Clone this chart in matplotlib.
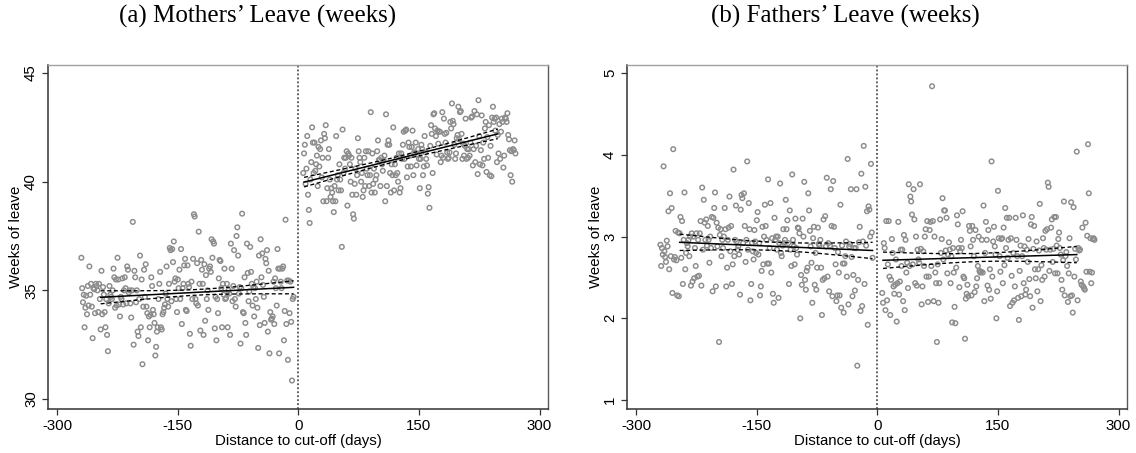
import numpy as np
import matplotlib.pyplot as plt

# ---- Data ----
# x = distance to the cut-off in days, y = average weeks of leave per day bin.
# Bins within 5 days of the cut-off are empty in the original.
DAYS_LEFT = np.arange(-270, -5)    # -270 .. -6
DAYS_RIGHT = np.arange(6, 271)     # 6 .. 270

MOTHERS_LEFT = [
    36.5, 35.1, 34.45, 34.8, 33.3, 34.2, 34.75, 33.9, 35.2, 34.3,
    36.1, 34.8, 35.3, 34.25, 32.8, 35.1, 35.05, 33.95, 35.3, 35.2,
    35.0, 34.0, 35.3, 34.6, 33.2, 35.9, 33.9, 35.15, 34.8, 34.0,
    33.3, 34.6, 32.95, 32.2, 34.4, 35.2, 34.8, 34.7, 34.6, 35.0,
    36.0, 35.6, 34.2, 35.5, 34.3, 36.5, 35.5, 34.35, 33.8, 34.7,
    34.6, 35.55, 34.35, 35.0, 35.6, 35.1, 34.4, 36.1, 35.95, 34.9,
    35.0, 34.4, 33.75, 35.0, 38.15, 32.5, 35.9, 35.6, 34.45, 35.0,
    33.1, 32.9, 34.6, 36.6, 33.3, 35.5, 31.6, 34.25, 35.95, 34.7,
    36.2, 34.25, 33.95, 32.7, 33.8, 33.3, 33.87, 35.6, 35.2, 34.1,
    33.9, 33.5, 32.0, 32.4, 33.1, 33.3, 34.6, 35.3, 35.85, 33.3,
    33.2, 33.9, 34.0, 34.2, 34.35, 34.85, 36.1, 34.6, 34.25, 35.3,
    36.95, 36.85, 34.5, 36.9, 36.3, 37.25, 35.4, 35.55, 34.6, 34.0,
    35.5, 35.1, 35.95, 34.6, 36.9, 33.45, 35.1, 35.3, 36.15, 36.45,
    34.1, 34.05, 36.15, 35.3, 35.15, 33.0, 32.45, 35.4, 34.6, 36.45,
    38.5, 38.4, 34.6, 34.4, 36.25, 34.3, 37.7, 35.3, 33.15, 36.4,
    35.95, 35.3, 32.95, 36.2, 33.6, 35.7, 34.6, 35.0, 34.1, 36.0,
    36.1, 35.85, 37.35, 36.5, 37.25, 37.15, 33.25, 34.7, 32.7, 34.6,
    33.95, 35.55, 36.4, 36.35, 35.1, 33.3, 35.3, 34.8, 36.0, 34.6,
    34.65, 35.3, 33.3, 35.0, 34.85, 32.95, 37.15, 36.0, 34.5, 35.2,
    36.85, 34.6, 34.25, 37.5, 37.9, 36.6, 34.85, 35.15, 32.55, 35.1,
    38.53, 34.0, 33.95, 35.6, 33.5, 32.95, 37.15, 35.8, 34.5, 34.95,
    37.0, 35.85, 35.3, 34.3, 35.15, 33.8, 35.1, 34.6, 35.4, 34.2,
    32.35, 36.6, 33.4, 37.35, 35.6, 36.7, 35.25, 34.7, 33.5, 36.45,
    36.25, 36.85, 33.1, 35.9, 32.1, 34.0, 33.65, 33.7, 33.8, 35.4,
    33.45, 35.55, 35.1, 34.3, 36.9, 36.0, 32.1, 36.0, 35.4, 35.1,
    36.0, 36.1, 32.7, 34.05, 38.25, 33.45, 35.45, 31.8, 35.45, 33.95,
    35.4, 33.55, 30.85, 34.6, 34.7,
]

MOTHERS_RIGHT = [
    40.4, 41.3, 41.7, 39.9, 40.6,
    42.1, 39.4, 38.7, 38.1, 40.1, 40.9, 42.5, 41.8, 40.4, 41.8,
    40.5, 40.8, 41.2, 39.8, 41.6, 40.7, 41.5, 41.9, 40.2, 41.1,
    39.1, 42.2, 42.0, 42.6, 39.1, 39.7, 41.1, 41.5, 40.1, 39.3,
    39.7, 39.5, 39.1, 38.6, 39.8, 39.1, 42.1, 40.1, 40.3, 39.6,
    40.8, 40.1, 39.6, 37.0, 42.4, 40.4, 41.1, 40.6, 41.1, 41.4,
    38.9, 41.3, 41.2, 40.8, 40.0, 41.1, 39.4, 38.5, 38.3, 39.9,
    40.6, 39.4, 40.3, 42.0, 41.4, 41.1, 40.9, 40.0, 40.4, 39.3,
    39.6, 41.1, 39.8, 41.4, 40.6, 40.3, 41.4, 39.8, 40.3, 43.2,
    39.5, 41.3, 39.9, 40.6, 39.5, 40.1, 40.3, 41.4, 41.9, 41.0,
    41.0, 39.8, 41.1, 40.8, 40.5, 41.0, 41.2, 39.1, 43.1, 39.8,
    41.7, 41.9, 41.7, 40.4, 39.5, 40.8, 40.3, 42.5, 39.6, 40.8,
    40.3, 41.1, 40.4, 40.0, 41.3, 39.5, 39.7, 41.3, 41.05, 41.7,
    42.3, 41.05, 42.35, 42.4, 40.2, 40.7, 41.8, 41.6, 41.2, 40.7,
    41.6, 42.35, 40.3, 41.35, 41.3, 41.8, 40.75, 41.25, 41.5, 41.05,
    39.7, 41.05, 41.7, 41.5, 40.3, 40.7, 42.1, 41.35, 41.05, 40.75,
    39.45, 39.75, 38.8, 41.65, 42.6, 42.2, 40.4, 43.1, 43.15, 42.45,
    42.1, 41.25, 42.35, 41.75, 42.3, 42.3, 40.9, 41.2, 43.2, 41.1,
    42.9, 42.2, 41.8, 42.25, 41.35, 41.05, 41.1, 41.35, 42.75, 42.45,
    43.6, 42.8, 42.65, 41.7, 41.05, 41.3, 42.0, 42.15, 43.45, 41.95,
    43.2, 43.25, 42.2, 41.05, 41.75, 41.2, 41.65, 42.9, 41.05, 41.5,
    41.1, 41.5, 41.2, 41.8, 42.95, 43.0, 40.75, 41.5, 43.25, 40.9,
    41.65, 43.1, 40.35, 43.75, 42.1, 40.8, 41.45, 43.05, 40.75, 41.8,
    41.05, 42.45, 42.75, 40.45, 42.05, 41.1, 42.6, 40.3, 41.65, 40.25,
    42.95, 43.45, 42.75, 42.9, 42.35, 42.95, 40.9, 42.15, 41.3, 42.65,
    41.05, 42.3, 42.9, 42.75, 40.65, 41.2, 42.95, 42.9, 42.75, 43.15,
    42.15, 41.95, 41.45, 40.3, 41.4, 40.0, 41.5, 41.45, 41.9, 41.3,
]

FATHERS_LEFT = [
    2.9, 2.64, 2.86, 2.78, 3.86, 2.82, 2.75, 2.69, 2.95, 2.88,
    3.31, 2.6, 3.53, 2.76, 3.35, 2.31, 4.07, 2.72, 2.75, 3.07,
    2.71, 2.28, 3.05, 2.27, 3.04, 3.24, 2.74, 3.19, 2.42, 2.96,
    3.54, 2.6, 2.8, 2.92, 2.88, 2.96, 2.76, 3.0, 2.4, 3.04,
    2.45, 3.0, 2.49, 2.86, 2.64, 3.04, 2.51, 2.96, 2.52, 3.04,
    3.19, 2.4, 3.6, 2.84, 3.45, 3.17, 2.96, 3.21, 2.89, 3.13,
    2.96, 2.68, 3.0, 2.86, 3.24, 2.33, 3.23, 3.35, 3.54, 2.39,
    3.17, 2.88, 3.11, 1.71, 3.02, 3.09, 2.76, 2.96, 2.86, 3.0,
    3.35, 3.09, 2.39, 2.62, 2.96, 3.11, 3.49, 2.82, 3.13, 2.42,
    2.66, 3.82, 2.76, 2.96, 3.38, 2.94, 2.84, 2.88, 2.78, 2.29,
    3.33, 3.51, 3.47, 2.92, 3.53, 3.13, 2.69, 2.96, 3.92, 2.84,
    3.41, 3.09, 2.22, 2.42, 2.92, 2.82, 2.72, 3.08, 2.94, 2.8,
    3.2, 3.3, 2.78, 2.92, 2.28, 2.39, 2.58, 3.12, 2.66, 3.0,
    3.39, 3.13, 2.96, 2.67, 3.7, 2.67, 2.86, 3.41, 2.56, 2.98,
    2.3, 2.19, 3.23, 2.96, 3.0, 2.84, 3.0, 2.25, 2.92, 3.65,
    2.8, 2.76, 2.89, 3.09, 2.92, 2.96, 3.45, 3.09, 3.2, 2.92,
    2.42, 3.32, 2.84, 2.64, 3.76, 2.96, 2.88, 2.66, 3.22, 2.86,
    2.78, 3.11, 3.1, 3.04, 2.0, 2.53, 2.41, 3.22, 3.0, 3.67,
    2.47, 2.35, 2.58, 2.62, 3.53, 3.32, 3.07, 2.88, 2.68, 2.19,
    2.98, 3.12, 2.41, 2.8, 2.35, 2.62, 3.11, 2.91, 2.89, 2.96,
    2.62, 2.04, 2.47, 3.21, 2.49, 3.25, 2.88, 3.72, 2.51, 2.92,
    2.33, 2.89, 3.58, 3.13, 2.27, 3.68, 3.12, 2.86, 2.66, 2.21,
    2.28, 2.81, 2.56, 2.28, 3.39, 2.13, 2.89, 2.67, 2.07, 2.67,
    2.76, 2.94, 2.51, 3.95, 2.17, 2.88, 2.91, 3.58, 2.75, 2.27,
    2.53, 2.86, 2.34, 2.86, 3.58, 1.42, 2.47, 2.93, 3.12, 2.09,
    3.77, 2.15, 2.94, 4.11, 2.42, 3.61, 2.89, 3.31, 1.92, 3.37,
    3.33, 3.0, 3.89, 3.05, 2.74,
]

FATHERS_RIGHT = [
    2.31, 2.19, 2.92, 2.86, 2.1,
    3.19, 2.22, 2.66, 3.19, 2.51, 2.04, 2.47, 2.97, 2.8, 2.39,
    2.3, 2.41, 2.72, 1.96, 2.43, 3.18, 2.29, 2.45, 2.84, 2.64,
    2.84, 2.21, 3.02, 2.1, 2.96, 2.56, 2.68, 2.37, 3.64, 2.64,
    3.49, 3.43, 3.27, 2.66, 3.58, 3.21, 2.43, 3.0, 2.4, 2.84,
    2.72, 2.68, 3.64, 2.85, 2.17, 2.39, 2.82, 2.64, 3.0, 3.09,
    2.51, 3.19, 2.2, 2.51, 3.08, 3.18, 2.64, 4.84, 3.19, 2.21,
    3.0, 2.56, 2.43, 1.71, 2.66, 2.19, 2.43, 3.21, 2.8, 2.97,
    3.47, 2.72, 3.32, 3.32, 2.83, 3.23, 2.55, 2.78, 2.93, 2.84,
    2.43, 2.76, 1.95, 2.86, 2.56, 2.14, 1.94, 2.62, 3.26, 3.15,
    2.86, 2.38, 2.82, 2.96, 2.86, 3.31, 2.51, 2.49, 1.75, 2.24,
    2.3, 2.41, 2.27, 3.13, 3.07, 2.88, 2.28, 3.13, 2.96, 2.76,
    2.32, 3.08, 2.39, 2.49, 2.64, 3.0, 2.58, 2.56, 2.57, 2.96,
    2.56, 3.38, 2.21, 2.8, 3.18, 2.96, 2.4, 3.08, 2.35, 2.6,
    2.24, 3.92, 2.51, 2.94, 3.12, 2.88, 2.78, 2.0, 2.33, 3.56,
    2.98, 2.76, 2.57, 2.97, 2.98, 2.43, 3.11, 2.65, 3.35, 2.86,
    3.23, 2.74, 2.96, 3.23, 2.15, 2.98, 2.52, 2.19, 2.8, 2.22,
    2.39, 3.23, 2.96, 2.76, 2.25, 1.98, 2.58, 2.89, 2.27, 2.76,
    3.26, 2.43, 2.88, 2.29, 2.35, 2.84, 2.69, 2.97, 2.48, 2.27,
    3.15, 3.24, 2.13, 2.85, 3.13, 2.6, 2.49, 2.94, 2.33, 2.6,
    2.83, 3.4, 2.21, 2.65, 2.47, 2.98, 2.86, 2.51, 3.07, 2.84,
    3.09, 3.66, 3.61, 2.58, 2.84, 3.11, 3.21, 2.69, 2.85, 3.24,
    2.55, 3.24, 2.89, 2.55, 2.97, 3.05, 2.86, 2.78, 2.47, 2.35,
    2.71, 3.43, 2.28, 2.76, 2.81, 2.64, 2.2, 2.55, 2.98, 2.27,
    3.42, 2.28, 2.07, 3.36, 2.51, 2.85, 2.72, 4.04, 2.22, 2.86,
    2.83, 2.84, 2.45, 2.41, 3.11, 2.39, 2.37, 2.35, 3.17, 2.57,
    3.01, 4.13, 3.53, 2.57, 2.98, 2.43, 2.56, 2.97, 2.98, 2.96,
]

# Linear fits (start/end values) and 95% CI half-widths (at the ends, at the middle)
FIT_DAYS_LEFT = [-246, -6]
FIT_DAYS_RIGHT = [7, 248]
MOTHERS_FIT_LEFT = [34.68, 35.14]
MOTHERS_FIT_RIGHT = [39.98, 42.20]
FATHERS_FIT_LEFT = [2.93, 2.83]
FATHERS_FIT_RIGHT = [2.71, 2.78]
MOTHERS_CI_LEFT = [0.30, 0.13]
MOTHERS_CI_RIGHT = [0.22, 0.10]
FATHERS_CI_LEFT = [0.10, 0.05]
FATHERS_CI_RIGHT = [0.10, 0.05]

TITLES = ["(a) Mothers\u2019 Leave (weeks)", "(b) Fathers\u2019 Leave (weeks)"]
X_TICKS = [-300, -150, 0, 150, 300]
MOTHERS_Y_TICKS = [30, 35, 40, 45]
FATHERS_Y_TICKS = [1, 2, 3, 4, 5]

assert len(MOTHERS_LEFT) == len(DAYS_LEFT) == len(FATHERS_LEFT)
assert len(MOTHERS_RIGHT) == len(DAYS_RIGHT) == len(FATHERS_RIGHT)

SANS = "Liberation Sans"
SERIF = "Liberation Serif"
DOT_COLOR = "#8c8c8c"


def draw_fit(ax, days, fit, ci):
    # straight fitted line, dashed confidence band around it
    d = np.linspace(days[0], days[1], 200)
    y = np.interp(d, days, fit)
    t = (d - (days[0] + days[1]) / 2) / ((days[1] - days[0]) / 2)
    half = np.sqrt(ci[1] ** 2 + (ci[0] ** 2 - ci[1] ** 2) * t ** 2)
    ax.plot(d, y, color="black", lw=1.1, zorder=4)
    ax.plot(d, y + half, color="black", lw=0.95, ls=(0, (3, 2)), zorder=4)
    ax.plot(d, y - half, color="black", lw=0.95, ls=(0, (3, 2)), zorder=4)


def draw_panel(ax, left, right, fit_left, fit_right, ci_left, ci_right, ylim, yticks):
    for days, vals in [(DAYS_LEFT, left), (DAYS_RIGHT, right)]:
        ax.scatter(days, vals, s=11, facecolors="none", edgecolors=DOT_COLOR,
                   linewidths=1.05, zorder=3)
    draw_fit(ax, FIT_DAYS_LEFT, fit_left, ci_left)
    draw_fit(ax, FIT_DAYS_RIGHT, fit_right, ci_right)
    ax.axvline(0, color="#333333", lw=1.1, ls=(0, (1.2, 1.4)), zorder=2)

    ax.set_xlim(-311.5, 310.5)
    ax.set_ylim(*ylim)
    ax.set_xticks(X_TICKS)
    ax.set_xticklabels([str(t) for t in X_TICKS], fontsize=10.8, family=SANS)
    ax.set_yticks(yticks)
    ax.set_yticklabels([str(t) for t in yticks], fontsize=10.8, family=SANS,
                       rotation=90, va="center")
    ax.tick_params(direction="out", length=4.2, width=0.9, color="#333333", pad=3)

    ax.set_xlabel("Distance to cut-off (days)", fontsize=10.8, family=SANS)
    ax.xaxis.set_label_coords(0.5, -0.074)
    ax.set_ylabel("Weeks of leave", fontsize=10.8, family=SANS)
    ax.yaxis.set_label_coords(-0.049, 0.5)

    for side in ["left", "bottom"]:
        ax.spines[side].set_color("#333333")
        ax.spines[side].set_linewidth(1.1)
    ax.spines["top"].set_color("#a0a0a0")
    ax.spines["right"].set_color("#5a5a5a")
    ax.spines["top"].set_linewidth(1.0)
    ax.spines["right"].set_linewidth(1.0)


fig = plt.figure(figsize=(11.36, 4.53), dpi=100)
W, H = 1136, 453
ax_a = fig.add_axes([48 / W, (H - 409) / H, 500 / W, 344 / H])
ax_b = fig.add_axes([627 / W, (H - 409) / H, 500 / W, 344 / H])

draw_panel(ax_a, MOTHERS_LEFT, MOTHERS_RIGHT, MOTHERS_FIT_LEFT, MOTHERS_FIT_RIGHT,
           MOTHERS_CI_LEFT, MOTHERS_CI_RIGHT, (29.54, 45.37), MOTHERS_Y_TICKS)
draw_panel(ax_b, FATHERS_LEFT, FATHERS_RIGHT, FATHERS_FIT_LEFT, FATHERS_FIT_RIGHT,
           FATHERS_CI_LEFT, FATHERS_CI_RIGHT, (0.89, 5.10), FATHERS_Y_TICKS)

fig.text(258 / W, 1 - 16 / H, TITLES[0], ha="center", va="center",
         family=SERIF, fontsize=18)
fig.text(845 / W, 1 - 16 / H, TITLES[1], ha="center", va="center",
         family=SERIF, fontsize=18)

fig.savefig("out.png", dpi=100)
